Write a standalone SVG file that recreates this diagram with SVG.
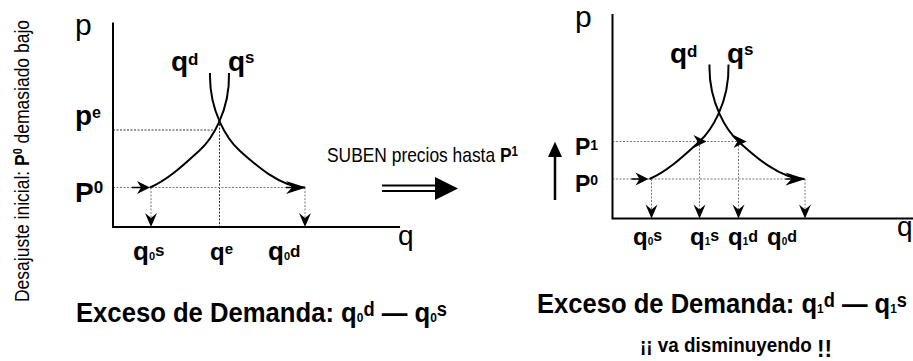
<svg xmlns="http://www.w3.org/2000/svg" xmlns:xlink="http://www.w3.org/1999/xlink" width="913" height="361" viewBox="0 0 913 361">
<style>
text{font-family:"Liberation Sans Narrow","Arial Narrow","Liberation Sans",Arial,sans-serif;fill:#000}
.b{font-weight:bold}
.ax{stroke:#000;stroke-width:2;fill:none}
.cv{stroke:#000;stroke-width:2;fill:none}
.dk{stroke:#333;stroke-width:1;stroke-dasharray:2 1.5;fill:none}
.lt{stroke:#777;stroke-width:1;stroke-dasharray:2 1.5;fill:none}
.sh{stroke:#000;stroke-width:1.5;fill:none}
</style>
<defs>
<path id="hs" d="M0,0 L-13,-6.5 L-9,0 L-13,6.5 Z" fill="#000"/>
<path id="hl" d="M0,0 L-20,-6.5 L-14,0 L-20,6.5 Z" fill="#000"/>
<path id="hd" d="M0,0 L-6,-14 L0,-9 L6,-14 Z" fill="#000"/>
<path id="sup" d="M150,187.5 C168.4,179.7 185.2,163.4 200,150 C211,140 230,112 229,73"/>
<path id="dem" d="M210,73 C209,112 228,140 239,150 C253.8,163.4 280,187.5 305,187.5"/>
</defs>

<text id="side-note" transform="translate(29,302) rotate(-90)" font-size="21" textLength="282" lengthAdjust="spacingAndGlyphs">Desajuste inicial: <tspan class="b">P<tspan font-size="13" dy="-7">0</tspan></tspan><tspan dy="7"> demasiado bajo</tspan></text>

<g id="graph-left">
<g id="left-guides">
<line class="dk" x1="113" y1="130" x2="213" y2="130"/>
<line class="dk" x1="219.5" y1="124" x2="219.5" y2="227"/>
<line class="lt" x1="113" y1="187.5" x2="305" y2="187.5"/>
<line class="lt" x1="151" y1="187.5" x2="151" y2="222"/>
<line class="lt" x1="305" y1="187.5" x2="305" y2="222"/>
</g>
<g id="left-axes">
<path class="ax" d="M113,22.5 V227 H400"/>
</g>
<g id="left-curves">
<use xlink:href="#sup" class="cv"/>
<use xlink:href="#dem" class="cv"/>
</g>
<g id="left-arrows">
<line class="sh" x1="132" y1="187.5" x2="146" y2="187.5"/>
<use xlink:href="#hs" transform="translate(150,187.5)"/>
<line class="sh" x1="286" y1="187.5" x2="300" y2="187.5"/>
<use xlink:href="#hl" transform="translate(306,187.5)"/>
<use xlink:href="#hd" transform="translate(151,227)"/>
<use xlink:href="#hd" transform="translate(305,227)"/>
</g>
<g id="left-labels">
<text x="75" y="35" font-size="30">p</text>
<text x="398" y="245" font-size="28">q</text>
<text class="b" x="171" y="71" font-size="28">q<tspan font-size="17" dy="-6">d</tspan></text>
<text class="b" x="228" y="71" font-size="28">q<tspan font-size="17" dy="-8">s</tspan></text>
<text class="b" x="75" y="124.5" font-size="28">p<tspan font-size="16" dy="-7">e</tspan></text>
<text class="b" x="75" y="201.7" font-size="28">P<tspan font-size="17" dy="-8.4">0</tspan></text>
<text class="b" x="133" y="260" font-size="26">q<tspan font-size="11">0</tspan><tspan font-size="17" dy="-4">s</tspan></text>
<text class="b" x="210" y="260" font-size="24">q<tspan font-size="15" dy="-6">e</tspan></text>
<text class="b" x="268" y="260" font-size="26">q<tspan font-size="11">0</tspan><tspan font-size="17" dy="-3">d</tspan></text>
</g>
<text id="left-caption" class="b" x="76" y="322" font-size="28" textLength="371" lengthAdjust="spacingAndGlyphs">Exceso de Demanda: q<tspan font-size="13">0</tspan><tspan font-size="20" dy="-6">d</tspan><tspan dy="6"> — q</tspan><tspan font-size="13">0</tspan><tspan font-size="20" dy="-6">s</tspan></text>
</g>

<g id="transition">
<text x="327" y="161.5" font-size="21" textLength="191" lengthAdjust="spacingAndGlyphs">SUBEN precios hasta <tspan class="b">P<tspan font-size="14" dy="-6">1</tspan></tspan></text>
<line x1="382" y1="185.5" x2="437" y2="185.5" stroke="#000" stroke-width="2.2"/>
<line x1="382" y1="191" x2="437" y2="191" stroke="#000" stroke-width="2.2"/>
<path d="M435,177 L458,188.5 L435,200 Z" fill="#000"/>
</g>

<g id="graph-right">
<g transform="translate(499.5,-8.5)">
<g id="right-guides">
<line class="lt" x1="113" y1="150" x2="247" y2="150"/>
<line class="lt" x1="113" y1="187.5" x2="305" y2="187.5"/>
<line class="lt" x1="152" y1="187.5" x2="152" y2="222"/>
<line class="lt" x1="200" y1="150" x2="200" y2="222"/>
<line class="lt" x1="239" y1="150" x2="239" y2="222"/>
<line class="lt" x1="305.5" y1="187.5" x2="305.5" y2="222"/>
</g>
<g id="right-axes">
<path class="ax" d="M113,22.5 V227 H414"/>
</g>
<g id="right-curves">
<use xlink:href="#sup" class="cv"/>
<use xlink:href="#dem" class="cv"/>
</g>
<g id="right-arrows">
<line class="sh" x1="132" y1="187.5" x2="145" y2="187.5"/>
<use xlink:href="#hs" transform="translate(149,187.5)"/>
<use xlink:href="#hs" transform="translate(207,150)"/>
<use xlink:href="#hs" transform="translate(247,150)"/>
<line class="sh" x1="286" y1="187.5" x2="300" y2="187.5"/>
<use xlink:href="#hl" transform="translate(306,187.5)"/>
<use xlink:href="#hd" transform="translate(152,227)"/>
<use xlink:href="#hd" transform="translate(200,227)"/>
<use xlink:href="#hd" transform="translate(239,227)"/>
<use xlink:href="#hd" transform="translate(305.5,227)"/>
</g>
</g>
<g id="right-labels">
<text x="575" y="27" font-size="30">p</text>
<text x="897" y="236" font-size="28">q</text>
<text class="b" x="670" y="62.5" font-size="28">q<tspan font-size="17" dy="-6">d</tspan></text>
<text class="b" x="727" y="62.5" font-size="28">q<tspan font-size="17" dy="-8">s</tspan></text>
<text class="b" x="575" y="155" font-size="23">P<tspan font-size="14" dy="-5.5">1</tspan></text>
<text class="b" x="575" y="191.7" font-size="23">P<tspan font-size="14" dy="-6.7">0</tspan></text>
<text class="b" x="633" y="244.5" font-size="24">q<tspan font-size="10">0</tspan><tspan font-size="16" dy="-4">s</tspan></text>
<text class="b" x="690" y="244.5" font-size="24">q<tspan font-size="10">1</tspan><tspan font-size="16" dy="-4">s</tspan></text>
<text class="b" x="728" y="244.5" font-size="24">q<tspan font-size="10">1</tspan><tspan font-size="16" dy="-3">d</tspan></text>
<text class="b" x="767" y="244.5" font-size="24">q<tspan font-size="10">0</tspan><tspan font-size="16" dy="-3">d</tspan></text>
</g>
<g id="up-arrow">
<line x1="555" y1="200" x2="555" y2="154" stroke="#000" stroke-width="2.5"/>
<path d="M555,141.7 L562,157 L548,157 Z" fill="#000"/>
</g>
<text id="right-caption" class="b" x="537" y="313" font-size="28" textLength="370" lengthAdjust="spacingAndGlyphs">Exceso de Demanda: q<tspan font-size="13">1</tspan><tspan font-size="20" dy="-6">d</tspan><tspan dy="6"> — q</tspan><tspan font-size="13">1</tspan><tspan font-size="20" dy="-6">s</tspan></text>
<text id="note" class="b" x="640" y="352" font-size="20" textLength="192" lengthAdjust="spacingAndGlyphs">¡¡ va disminuyendo <tspan font-size="24" dy="5">!!</tspan></text>
</g>
</svg>
